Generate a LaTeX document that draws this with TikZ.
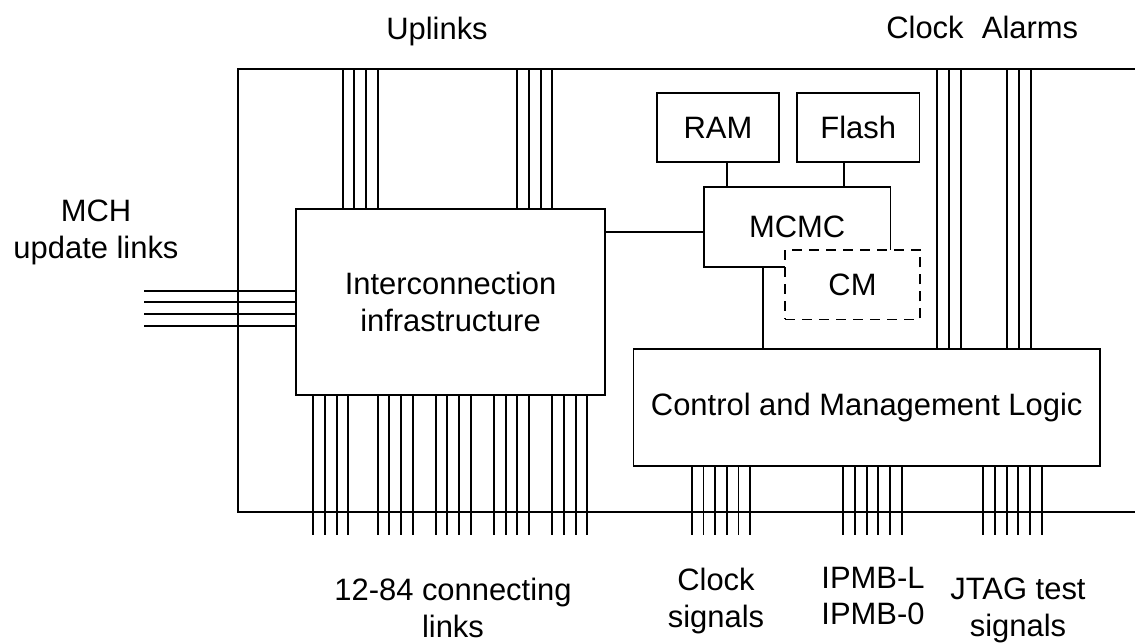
\documentclass[tikz,border=0pt]{standalone}
\usepackage{fontspec}
\setmainfont{Liberation Sans}
\usepackage{xcolor}
\usetikzlibrary{calc,positioning}
\definecolor{ink}{HTML}{000000}
\definecolor{paper}{HTML}{FFFFFF}
\tikzset{
  wire/.style={draw=ink, line width=1pt},
  box/.style={draw=ink, fill=paper, line width=1pt, inner sep=0pt, text=ink, align=center,
    font=\fontsize{17.6}{21}\selectfont},
  cmbox/.style={box, dash pattern=on 0.2cm off 0.14cm},
  lab/.style={text=ink, inner sep=0pt, align=center, font=\fontsize{17.6}{21}\selectfont},
}

\begin{document}
\begin{tikzpicture}[x=0.02cm, y=-0.02cm]
  \useasboundingbox (0,0) rectangle (1135,642);
  \coordinate (FTL) at (238,69);
  \coordinate (FBL) at (238,512);
  \coordinate (FTR) at (1135,69);
  \coordinate (FBR) at (1135,512);
  \coordinate (pinL) at (144,0);
  \coordinate (pinB) at (0,535);
  \draw[wire] (FTR) -- (FTL) -- (FBL) -- (FBR);

  \node[box, minimum width=6.18cm, minimum height=3.72cm] (infra) at (450.5,302)
    {Interconnection\\infrastructure};
  \node[box, minimum width=2.45cm, minimum height=1.39cm] (ram) at (718,127.5) {RAM};
  \node[box, minimum width=2.45cm, minimum height=1.39cm] (flash) at (858.2,127.5) {Flash};
  \node[box, minimum width=3.73cm, minimum height=1.59cm] (mcmc) at (797.2,227) {MCMC};
  \node[cmbox, minimum width=2.7cm, minimum height=1.39cm] (cm) at (852.5,284.7) {CM};
  \node[box, minimum width=9.33cm, minimum height=2.35cm] (ctrl) at (866.7,407.4)
    {Control and Management Logic};

  \draw[wire] (ram.south -| 727.3,0) -- (mcmc.north -| 727.3,0);
  \draw[wire] (flash.south -| 843.7,0) -- (mcmc.north -| 843.7,0);
  \draw[wire] (infra.east |- 0,232.3) -- (mcmc.west |- 0,232.3);
  \draw[wire] (mcmc.south -| 762.7,0) -- (ctrl.north -| 762.7,0);

  \foreach \s in {342.7,517.3}
    \foreach \i in {0,...,3} {
      \pgfmathsetmacro{\xx}{\s+11.67*\i}
      \draw[wire] (\xx,0 |- FTL) -- (\xx,0 |- infra.north);
    }
  \foreach \s in {313.3,377.7,435.7,494,552.3}
    \foreach \i in {0,...,3} {
      \pgfmathsetmacro{\xx}{\s+11.67*\i}
      \draw[wire] (\xx,0 |- infra.south) -- (\xx,0 |- pinB);
    }
  \foreach \i in {0,...,3} {
    \pgfmathsetmacro{\yy}{290.7+11.67*\i}
    \draw[wire] (pinL |- 0,\yy) -- (infra.west |- 0,\yy);
  }
  \foreach \s in {937.3,1007.3}
    \foreach \i in {0,...,2} {
      \pgfmathsetmacro{\xx}{\s+11.67*\i}
      \draw[wire] (\xx,0 |- FTL) -- (\xx,0 |- ctrl.north);
    }
  \foreach \s in {691.7,843.3,983.3}
    \foreach \i in {0,...,5} {
      \pgfmathsetmacro{\xx}{\s+11.67*\i}
      \draw[wire] (\xx,0 |- ctrl.south) -- (\xx,0 |- pinB);
    }

  \node[lab] (uplab) at (437,32) {Uplinks};
  \node[lab] (clklab) at (925,27) {Clock};
  \node[lab] (alarmlab) at (1030,27) {Alarms};
  \node[lab] (mchlab) at (96,232) {MCH\\update links};
  \node[lab] (linklab) at (453,608) {12-84 connecting\\links};
  \node[lab] (clksig) at (716,601) {Clock\\signals};
  \node[lab] (ipmb) at (873,596) {IPMB-L\\IPMB-0};
  \node[lab] (jtag) at (1018,610) {JTAG test\\signals};
\end{tikzpicture}
\end{document}
